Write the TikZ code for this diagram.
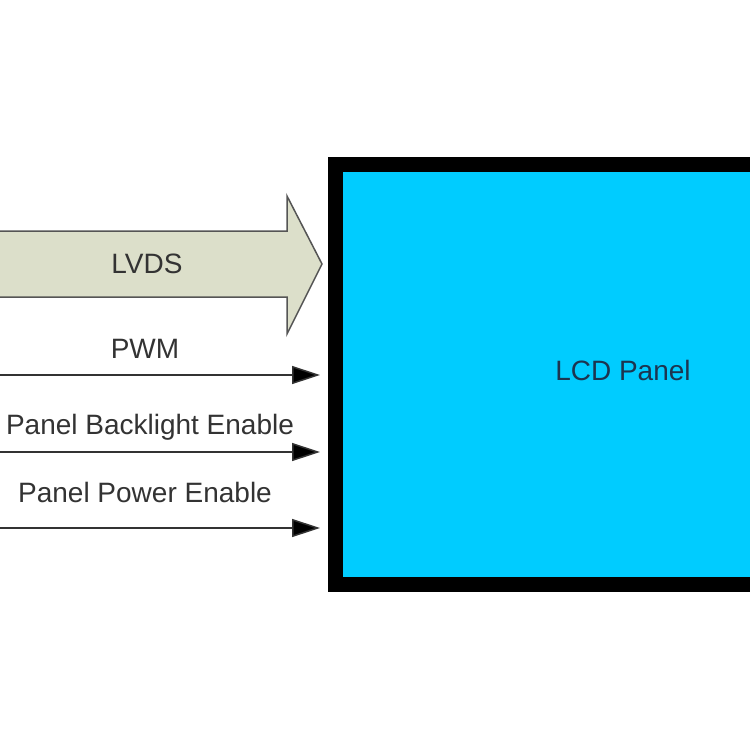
\documentclass[tikz,border=0pt]{standalone}
\usepackage{fontspec}
\setmainfont{Liberation Sans}
\usetikzlibrary{arrows.meta}
\definecolor{panelcyan}{HTML}{00CCFF}
\definecolor{lvdsfill}{HTML}{DCDFCA}
\definecolor{lvdsline}{HTML}{555555}
\definecolor{txt}{HTML}{333333}
\definecolor{paneltxt}{HTML}{1C3550}
\tikzset{
  lbl/.style={text=txt, font=\fontsize{28}{32}\selectfont, inner sep=0pt},
  sig/.style={draw=txt, line width=1.5pt, -{Triangle[length=28pt,width=18pt,fill=black]}},
  panelbox/.style={draw=black, line width=15pt, fill=panelcyan, rectangle,
    minimum width=576pt, minimum height=420pt, anchor=north west, outer sep=0pt}
}
\begin{document}
\begin{tikzpicture}[x=1pt,y=-1pt]
\useasboundingbox (0,0) rectangle (750,750);
\fill[white] (0,0) rectangle (750,750);
% LCD panel
\node[panelbox] (panel) at (335,164) {};
\node[lbl, text=paneltxt] (lcd) at ([yshift=4pt]panel.center) {LCD Panel};
% LVDS bus arrow
\draw[draw=lvdsline, fill=lvdsfill, line width=1.5pt, line join=miter]
  (-10,231) -- (287,231) -- (287,196) -- (322,264) -- (287,334) -- (287,297) -- (-10,297) -- cycle;
\node[lbl] (lvds) at (147,264) {LVDS};
% signal lines
\coordinate (s1) at (-10,375); \coordinate (e1) at (320,375);
\coordinate (s2) at (-10,452); \coordinate (e2) at (320,452);
\coordinate (s3) at (-10,528); \coordinate (e3) at (320,528);
\draw[sig] (s1) -- (e1);
\draw[sig] (s2) -- (e2);
\draw[sig] (s3) -- (e3);
\node[lbl] (pwm) at (145,349) {PWM};
\node[lbl] (pbe) at (150,427) {Panel Backlight Enable};
\node[lbl] (ppe) at (145,492) {Panel Power Enable};
\end{tikzpicture}
\end{document}
